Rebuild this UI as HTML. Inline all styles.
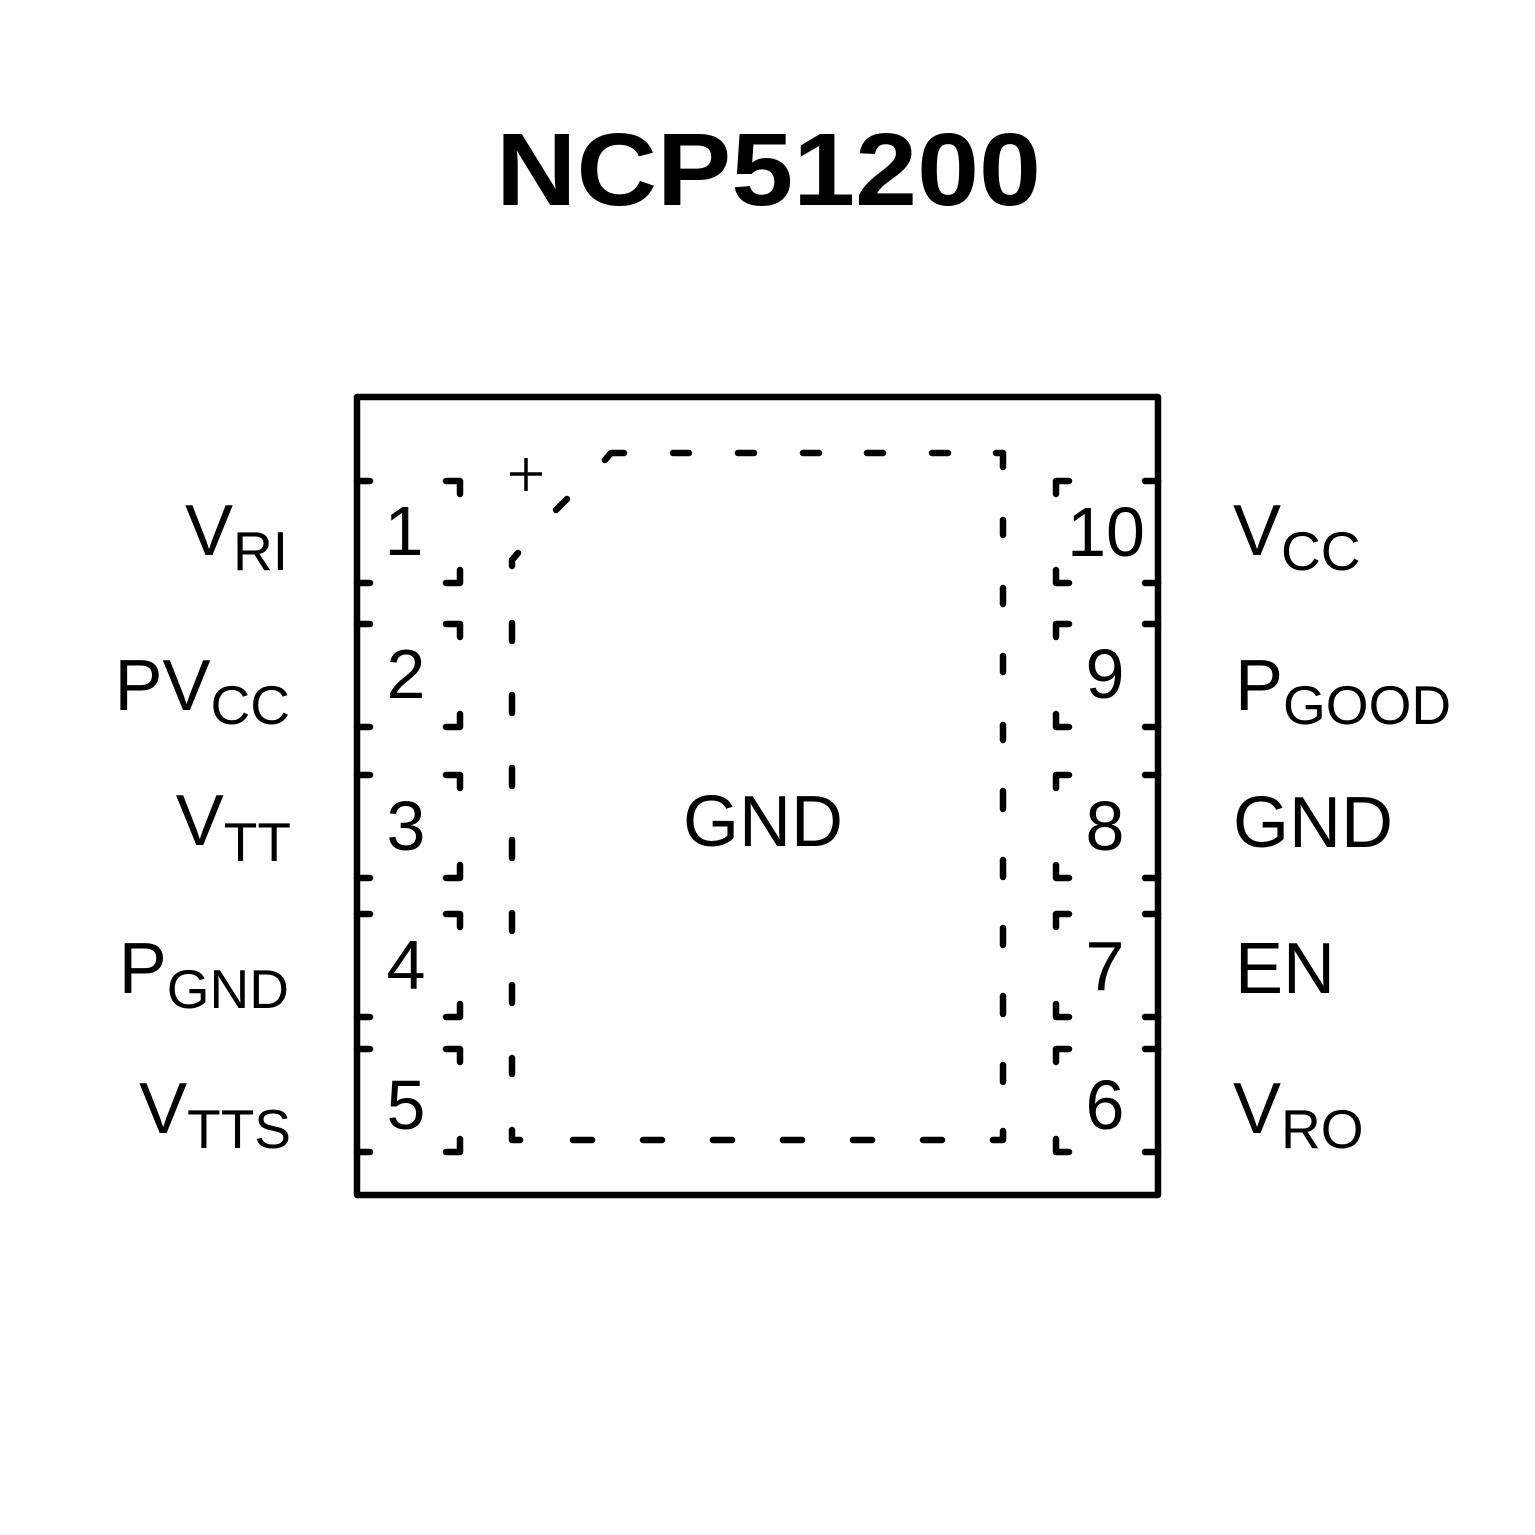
<!DOCTYPE html>
<html>
<head>
<meta charset="utf-8">
<style>
  html, body { margin: 0; padding: 0; background: #ffffff; }
  svg { display: block; }
  text { font-family: "Liberation Sans", Arial, sans-serif; fill: #000; }
</style>
</head>
<body>
<svg width="1535" height="1535" viewBox="0 0 1535 1535" xmlns="http://www.w3.org/2000/svg">
  <rect x="0" y="0" width="1535" height="1535" fill="#ffffff"/>

  <!-- Title -->
  <text x="496" y="205" font-size="103" font-weight="bold" textLength="545" lengthAdjust="spacingAndGlyphs">NCP51200</text>

  <!-- Outer package outline -->
  <rect x="357" y="397" width="801" height="798" fill="none" stroke="#000" stroke-width="6.5" stroke-linejoin="round"/>

  <g fill="none" stroke="#000" stroke-width="6.5" stroke-linecap="round" stroke-linejoin="round">
    <!-- Left pins -->
    <path d="M357,481 H370 M446,481 H460 V494 M460,570 V583 H446 M357,583 H370"/>
    <path d="M357,624 H370 M446,624 H460 V637 M460,714 V727 H446 M357,727 H370"/>
    <path d="M357,775 H370 M446,775 H460 V788 M460,865 V878 H446 M357,878 H370"/>
    <path d="M357,914 H370 M446,914 H460 V927 M460,1004 V1017 H446 M357,1017 H370"/>
    <path d="M357,1049 H370 M446,1049 H460 V1062 M460,1139 V1152 H446 M357,1152 H370"/>

    <!-- Right pins -->
    <path d="M1158,481 H1145 M1069,481 H1056 V494 M1056,570 V583 H1069 M1158,583 H1145"/>
    <path d="M1158,624 H1145 M1069,624 H1056 V637 M1056,714 V727 H1069 M1158,727 H1145"/>
    <path d="M1158,775 H1145 M1069,775 H1056 V788 M1056,865 V878 H1069 M1158,878 H1145"/>
    <path d="M1158,914 H1145 M1069,914 H1056 V927 M1056,1004 V1017 H1069 M1158,1017 H1145"/>
    <path d="M1158,1049 H1145 M1069,1049 H1056 V1062 M1056,1139 V1152 H1069 M1158,1152 H1145"/>

    <!-- Exposed pad dashed outline -->
    <path d="M605,460 L611,453 H624"/>
    <path d="M673,453 H689 M738,453 H754 M803,453 H819 M867,453 H883 M932,453 H948"/>
    <path d="M996,453 H1003 V467"/>
    <path d="M1003,520 V535 M1003,588 V604 M1003,656 V672 M1003,725 V740 M1003,791 V809 M1003,860 V877 M1003,928 V945 M1003,996 V1014 M1003,1065 V1082"/>
    <path d="M1003,1131 V1140 H993"/>
    <path d="M573,1140 H592 M643,1140 H662 M713,1140 H732 M783,1140 H802 M853,1140 H872 M923,1140 H942"/>
    <path d="M512,1130 V1140 H520"/>
    <path d="M512,623 V641 M512,695 V713 M512,768 V786 M512,840 V858 M512,913 V931 M512,985 V1003 M512,1058 V1074"/>
    <path d="M512,566 V560 L518,553"/>
    <path d="M556,510 L567,499"/>
  </g>

  <!-- Pin-1 "+" marker -->
  <g stroke="#000" stroke-width="3.5" stroke-linecap="butt">
    <line x1="510" y1="474" x2="542" y2="474"/>
    <line x1="526" y1="458" x2="526" y2="491"/>
  </g>

  <!-- Pin numbers -->
  <g font-size="70" text-anchor="middle">
    <text x="404" y="555">1</text>
    <text x="406" y="698">2</text>
    <text x="406" y="850">3</text>
    <text x="406" y="989">4</text>
    <text x="406" y="1129">5</text>
    <text x="1106" y="556">10</text>
    <text x="1105" y="698">9</text>
    <text x="1105" y="850">8</text>
    <text x="1105" y="990">7</text>
    <text x="1105" y="1129">6</text>
  </g>

  <!-- Center GND -->
  <text x="763" y="846" font-size="72" text-anchor="middle">GND</text>

  <!-- Left labels -->
  <g font-size="72" text-anchor="end">
    <text x="288" y="555">V<tspan font-size="55" dy="15">RI</tspan></text>
    <text x="290" y="710">PV<tspan font-size="55" dy="14">CC</tspan></text>
    <text x="291" y="845">V<tspan font-size="55" dy="16">TT</tspan></text>
    <text x="289" y="993">P<tspan font-size="55" dy="15">GND</tspan></text>
    <text x="291" y="1133">V<tspan font-size="55" dy="15">TTS</tspan></text>
  </g>

  <!-- Right labels -->
  <g font-size="72">
    <text x="1233" y="555">V<tspan font-size="55" dy="15">CC</tspan></text>
    <text x="1235" y="710">P<tspan font-size="55" dy="14">GOOD</tspan></text>
    <text x="1233" y="847">GND</text>
    <text x="1235" y="993">EN</text>
    <text x="1233" y="1133">V<tspan font-size="55" dy="15">RO</tspan></text>
  </g>
</svg>
</body>
</html>
